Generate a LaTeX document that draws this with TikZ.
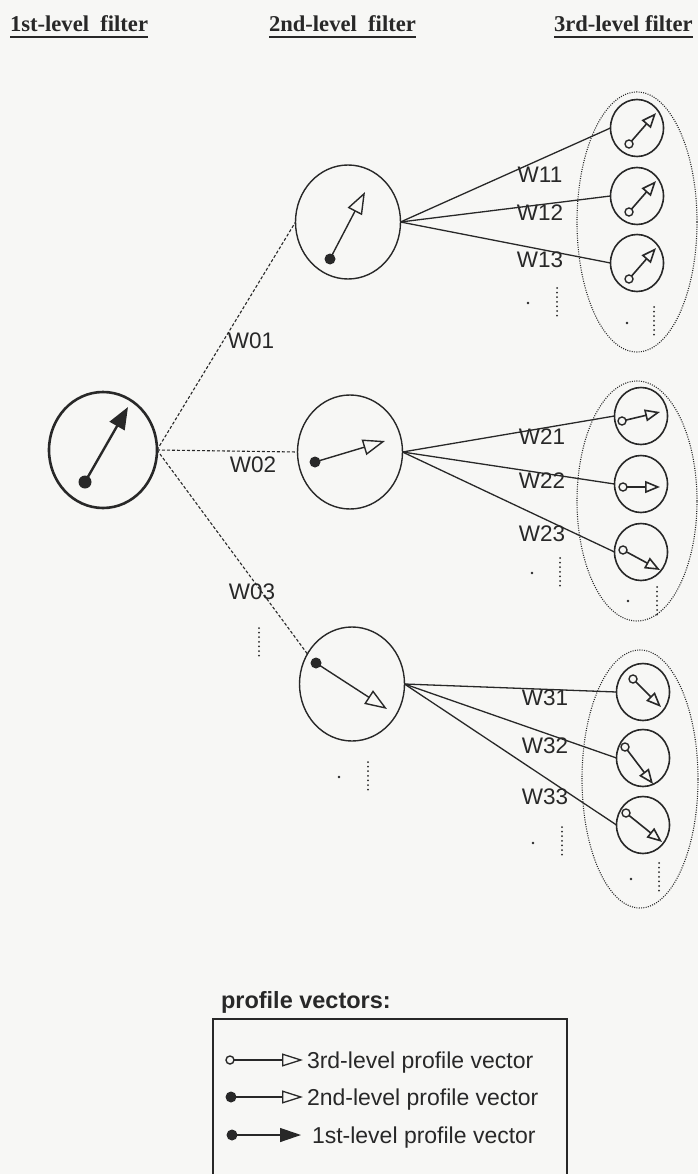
\documentclass[tikz,border=0pt]{standalone}
\usepackage{fontspec}
\setmainfont{Liberation Sans}
\newfontfamily\hdrfont{Liberation Serif}
\usetikzlibrary{arrows.meta,shapes.geometric}
\definecolor{ink}{RGB}{40,40,40}
\definecolor{paper}{RGB}{247,247,245}
\begin{document}
\begin{tikzpicture}[x=1pt,y=-1pt,
  every node/.style={inner sep=0pt,outer sep=0pt,text=ink},
  lab/.style={font=\fontsize{22.5}{24}\selectfont},
  hdr/.style={font=\hdrfont\bfseries\fontsize{22.6}{26}\selectfont,anchor=base west},
  levone/.style={draw=ink,ellipse,line width=2.6pt,minimum width=108pt,minimum height=116pt},
  levtwo/.style={draw=ink,ellipse,line width=1.4pt,minimum width=105pt,minimum height=114pt},
  levthree/.style={draw=ink,ellipse,line width=1.6pt,minimum width=53pt,minimum height=57pt},
  grp/.style={draw=ink,ellipse,line width=1.1pt,dash pattern=on 1pt off 1.3pt},
  vecone/.style={draw=ink,line width=2.4pt,-{Triangle[length=22pt,width=17pt]}},
  vectwo/.style={draw=ink,line width=1.4pt,-{Triangle[open,length=22pt,width=16pt]}},
  vecthree/.style={draw=ink,line width=1.6pt,-{Triangle[open,length=15pt,width=12pt]}},
  opentail/.style={draw=ink,fill=paper,line width=1.4pt},
  conn/.style={draw=ink,line width=1.3pt},
  dconn/.style={draw=ink,line width=1.1pt,dash pattern=on 3pt off 2pt},
  dotcol/.style={draw=ink,line width=2pt,line cap=round,dash pattern=on 0pt off 4.6pt},
  ulin/.style={draw=ink,line width=2pt}
]
\fill[paper] (0,0) rectangle (698,1174);
\useasboundingbox (0,0) rectangle (698,1174);

% headers
\node[hdr] (h1) at (10,32) {1st-level\ \ filter};
\node[hdr] (h2) at (269,32) {2nd-level\ \ filter};
\node[hdr] (h3) at (554,32) {3rd-level filter};
\draw[ulin] ([yshift=-5pt]h1.base west) -- ([yshift=-5pt]h1.base east);
\draw[ulin] ([yshift=-5pt]h2.base west) -- ([yshift=-5pt]h2.base east);
\draw[ulin] ([yshift=-5pt]h3.base west) -- ([yshift=-5pt]h3.base east);

% level 1
\node[levone] (l1) at (103,450) {};
\draw[vecone] ([shift={(-18,32)}]l1.center) -- ([shift={(25,-43)}]l1.center);
\fill[ink] ([shift={(-18,32)}]l1.center) circle (6.5);

% level 2
\node[levtwo] (l2a) at (348,222) {};
\node[levtwo] (l2b) at (350,452) {};
\node[levtwo] (l2c) at (352,684) {};
\draw[vectwo] ([shift={(-18,37)}]l2a.center) -- ([shift={(17,-30)}]l2a.center);
\fill[ink] ([shift={(-18,37)}]l2a.center) circle (5.5);
\draw[vectwo] ([shift={(-35,10)}]l2b.center) -- ([shift={(35,-11)}]l2b.center);
\fill[ink] ([shift={(-35,10)}]l2b.center) circle (5.5);
\draw[vectwo] ([shift={(-36,-21)}]l2c.center) -- ([shift={(35,25)}]l2c.center);
\fill[ink] ([shift={(-36,-21)}]l2c.center) circle (5.5);

\draw[dconn] (l1.east) -- (l2a.west);
\draw[dconn] (l1.east) -- (l2b.west);
\draw[dconn] (l1.east) -- (l2c.146);
\node[lab] (w01) at (251,341) {W01};
\node[lab] (w02) at (253,465) {W02};
\node[lab] (w03) at (252,592) {W03};
\draw[dotcol] (259,628) -- (259,656);
\fill[ink] (339,777) circle (1.3);
\draw[dotcol] (368,762) -- (368,790);

% group ellipses
\node[grp,minimum width=120pt,minimum height=260pt] (e1) at (637,222) {};
\node[grp,minimum width=120pt,minimum height=240pt] (e2) at (637,501) {};
\node[grp,minimum width=116pt,minimum height=258pt] (e3) at (640,779) {};

% level 3, group 1
\node[levthree] (g11) at (637,128) {};
\node[levthree] (g12) at (637,196) {};
\node[levthree] (g13) at (637,263) {};
\foreach \g in {g11,g12,g13}{
  \draw[vecthree] ([shift={(-8,16)}]\g.center) -- ([shift={(19,-15)}]\g.center);
  \draw[opentail] ([shift={(-8,16)}]\g.center) circle (4);
}
% group 2
\node[levthree] (g21) at (641,416) {};
\node[levthree] (g22) at (641,484) {};
\node[levthree] (g23) at (641,552) {};
\draw[vecthree] ([shift={(-19,5)}]g21.center) -- ([shift={(19,-4)}]g21.center);
\draw[opentail] ([shift={(-19,5)}]g21.center) circle (4);
\draw[vecthree] ([shift={(-18,3)}]g22.center) -- ([shift={(19,3)}]g22.center);
\draw[opentail] ([shift={(-18,3)}]g22.center) circle (4);
\draw[vecthree] ([shift={(-18,-2)}]g23.center) -- ([shift={(19,18)}]g23.center);
\draw[opentail] ([shift={(-18,-2)}]g23.center) circle (4);
% group 3
\node[levthree] (g31) at (643,692) {};
\node[levthree] (g32) at (643,758) {};
\node[levthree] (g33) at (643,825) {};
\draw[vecthree] ([shift={(-10,-13)}]g31.center) -- ([shift={(18,15)}]g31.center);
\draw[opentail] ([shift={(-10,-13)}]g31.center) circle (4);
\draw[vecthree] ([shift={(-18,-11)}]g32.center) -- ([shift={(10,26)}]g32.center);
\draw[opentail] ([shift={(-18,-11)}]g32.center) circle (4);
\draw[vecthree] ([shift={(-17,-12)}]g33.center) -- ([shift={(19,17)}]g33.center);
\draw[opentail] ([shift={(-17,-12)}]g33.center) circle (4);

% connectors level 2 -> level 3
\draw[conn] (l2a.east) -- (g11.west);
\draw[conn] (l2a.east) -- (g12.west);
\draw[conn] (l2a.east) -- (g13.west);
\draw[conn] (l2b.east) -- (g21.west);
\draw[conn] (l2b.east) -- (g22.west);
\draw[conn] (l2b.east) -- (g23.west);
\draw[conn] (l2c.east) -- (g31.west);
\draw[conn] (l2c.east) -- (g32.west);
\draw[conn] (l2c.east) -- (g33.west);

\node[lab] (w11) at (540,175) {W11};
\node[lab] (w12) at (540,213) {W12};
\node[lab] (w13) at (540,260) {W13};
\node[lab] (w21) at (542,437) {W21};
\node[lab] (w22) at (542,481) {W22};
\node[lab] (w23) at (542,534) {W23};
\node[lab] (w31) at (545,698) {W31};
\node[lab] (w32) at (545,746) {W32};
\node[lab] (w33) at (545,797) {W33};

% continuation dots
\fill[ink] (528,303) circle (1.3);
\draw[dotcol] (557,288) -- (557,318);
\fill[ink] (627,323) circle (1.3);
\draw[dotcol] (654,307) -- (654,337);
\fill[ink] (532,573) circle (1.3);
\draw[dotcol] (560,558) -- (560,586);
\fill[ink] (628,601) circle (1.3);
\draw[dotcol] (657,587) -- (657,615);
\fill[ink] (533,843) circle (1.3);
\draw[dotcol] (562,827) -- (562,856);
\fill[ink] (631,879) circle (1.3);
\draw[dotcol] (659,863) -- (659,891);

% legend
\node[font=\bfseries\fontsize{23.5}{26}\selectfont,anchor=base west] (legt) at (221,1008) {profile vectors:};
\draw[ink,line width=1.3pt] (213,1174) -- (213,1019) -- (567,1019) -- (567,1174);
\draw[draw=ink,line width=1.3pt,-{Triangle[open,length=21pt,width=13pt]}] (230,1060) -- (303,1060);
\draw[opentail] (230,1060) circle (4);
\node[font=\fontsize{23}{26}\selectfont,anchor=base west] (leg1) at (307,1068) {3rd-level profile vector};
\draw[draw=ink,line width=1.3pt,-{Triangle[open,length=21pt,width=13pt]}] (231,1097) -- (303,1097);
\fill[ink] (231,1097) circle (5.5);
\node[font=\fontsize{23}{26}\selectfont,anchor=base west] (leg2) at (307,1105) {2nd-level profile vector};
\draw[draw=ink,line width=1.3pt,-{Triangle[length=21pt,width=14pt]}] (232,1135) -- (301,1135);
\fill[ink] (232,1135) circle (5.5);
\node[font=\fontsize{23}{26}\selectfont,anchor=base west] (leg3) at (312,1143) {1st-level profile vector};
\end{tikzpicture}
\end{document}
